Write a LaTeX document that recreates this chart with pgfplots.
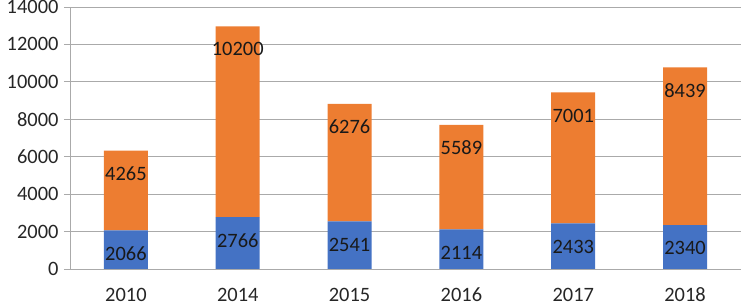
\documentclass[border=0pt]{standalone}
\usepackage{fontspec}
\setmainfont{Carlito}
\usepackage{pgfplots}
\pgfplotsset{compat=1.18}
\definecolor{cblue}{HTML}{4472C4}
\definecolor{corange}{HTML}{ED7D31}
\definecolor{cgrid}{RGB}{170,170,170}
\begin{document}
\begin{tikzpicture}
\clip (-70bp,-34bp) rectangle (674bp,269bp);
\begin{axis}[
  scale only axis,
  width=671bp, height=262bp,
  ybar stacked,
  bar width=44bp,
  xmin=-0.5, xmax=5.5,
  ymin=0, ymax=14000,
  ytick={0,2000,...,14000},
  xtick={0,1,2,3,4,5},
  xticklabels={2010,2014,2015,2016,2017,2018},
  extra x ticks={-0.5,0.5,1.5,2.5,3.5,4.5,5.5},
  extra x tick labels={},
  extra x tick style={major tick length=6bp, tick align=outside, tick style={cgrid, line width=0.8bp}},
  xtick style={draw=none},
  ytick style={cgrid, line width=0.8bp},
  major tick length=6bp,
  tick align=outside,
  ymajorgrids,
  grid style={cgrid, line width=0.8bp},
  axis x line*=bottom,
  axis y line*=left,
  axis line style={cgrid, line width=0.8bp, -},
  x axis line style={draw=none},
  scaled y ticks=false,
  /pgf/number format/assume math mode=true,
  /pgf/number format/1000 sep={},
  ticklabel style={font=\fontsize{20.5}{24}\selectfont, text=black!85},
  yticklabel style={xshift=-2bp},
  xticklabel style={yshift=-9.5bp},
  nodes near coords,
  point meta=explicit,
  visualization depends on={\thisrow{v} \as \val},
  every node near coord/.append style={anchor=center, yshift={(\val*0.0093571-23)*1bp}, font=\fontsize{20.5}{24}\selectfont, text=black!90},
]
\addplot[fill=cblue, draw=none] table[x=x, y=v, meta=v] {
x v
0 2066
1 2766
2 2541
3 2114
4 2433
5 2340
};
\addplot[fill=corange, draw=none] table[x=x, y=v, meta=v] {
x v
0 4265
1 10200
2 6276
3 5589
4 7001
5 8439
};
\end{axis}
\end{tikzpicture}
\end{document}
